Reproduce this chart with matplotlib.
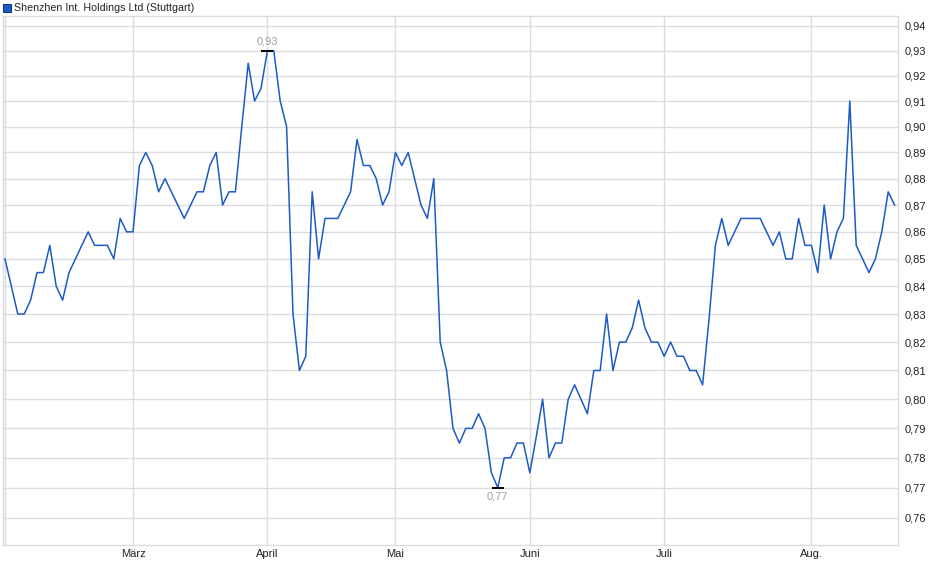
import numpy as np
import matplotlib
matplotlib.use("Agg")
import matplotlib.pyplot as plt
from matplotlib.ticker import FixedLocator, FixedFormatter, NullLocator

# Kursverlauf (Handelstage, Feb - Aug)
prices = [
    0.85, 0.84, 0.83, 0.83, 0.835, 0.845, 0.845, 0.855, 0.84, 0.835,
    0.845, 0.85, 0.855, 0.86, 0.855, 0.855, 0.855, 0.85, 0.865, 0.86,
    0.86, 0.885, 0.89, 0.885, 0.875, 0.88, 0.875, 0.87, 0.865, 0.87,
    0.875, 0.875, 0.885, 0.89, 0.87, 0.875, 0.875, 0.90, 0.925, 0.91,
    0.915, 0.93, 0.93, 0.91, 0.90, 0.83, 0.81, 0.815, 0.875, 0.85,
    0.865, 0.865, 0.865, 0.87, 0.875, 0.895, 0.885, 0.885, 0.88, 0.87,
    0.875, 0.89, 0.885, 0.89, 0.88, 0.87, 0.865, 0.88, 0.82, 0.81,
    0.79, 0.785, 0.79, 0.79, 0.795, 0.79, 0.775, 0.77, 0.78, 0.78,
    0.785, 0.785, 0.775, 0.787, 0.80, 0.78, 0.785, 0.785, 0.80, 0.805,
    0.80, 0.795, 0.81, 0.81, 0.83, 0.81, 0.82, 0.82, 0.825, 0.835,
    0.825, 0.82, 0.82, 0.815, 0.82, 0.815, 0.815, 0.81, 0.81, 0.805,
    0.828, 0.855, 0.865, 0.855, 0.86, 0.865, 0.865, 0.865, 0.865, 0.86,
    0.855, 0.86, 0.85, 0.85, 0.865, 0.855, 0.855, 0.845, 0.87, 0.85,
    0.86, 0.865, 0.91, 0.855, 0.85, 0.845, 0.85, 0.86, 0.875, 0.87,
]

month_labels = ["März", "April", "Mai", "Juni", "Juli", "Aug."]
month_pos = [20, 41, 61, 82, 103, 126]

y_ticks = [0.76, 0.77, 0.78, 0.79, 0.80, 0.81, 0.82, 0.83, 0.84, 0.85,
           0.86, 0.87, 0.88, 0.89, 0.90, 0.91, 0.92, 0.93, 0.94]
y_labels = [f"{v:.2f}".replace(".", ",") for v in y_ticks]

title = "Shenzhen Int. Holdings Ltd (Stuttgart)"

plt.rcParams['font.family'] = ['Liberation Sans', 'DejaVu Sans']

W, H = 940, 579
fig = plt.figure(figsize=(W / 100, H / 100), dpi=100)
ax = fig.add_axes([3 / W, (H - 545) / H, (898 - 3) / W, (545 - 16) / H])

x = np.arange(len(prices))
line_color = "#1c5bc6"
grid_color = "#dcdcdc"

ax.set_yscale("log")
ax.set_ylim(0.75118, 0.94405)
px = 6.4  # Pixel je Handelstag
ax.set_xlim(-2 / px, (898 - 5) / px)

for yv in y_ticks:
    ax.axhline(yv, color=grid_color, lw=1, zorder=1)
for xv in month_pos:
    ax.axvline(xv, color=grid_color, lw=1, zorder=1)
ax.axvline(0, color=grid_color, lw=1, zorder=1)

ax.plot(x, prices, color=line_color, lw=1.1, zorder=3)

# Hoch / Tief
imax = int(np.argmax(prices))
imin = int(np.argmin(prices))
ax.plot([imax], [prices[imax]], marker="_", ms=8, mew=1.4, color="black", zorder=4)
ax.plot([imin], [prices[imin]], marker="_", ms=8, mew=1.4, color="black", zorder=4)
ann_color = "#a39e98"
ax.annotate(f"{prices[imax]:.2f}".replace(".", ","), (imax, prices[imax]),
            xytext=(0, 3), textcoords="offset points", ha="center", va="bottom",
            fontsize=8, color=ann_color)
ax.annotate(f"{prices[imin]:.2f}".replace(".", ","), (imin, prices[imin]),
            xytext=(0, -3), textcoords="offset points", ha="center", va="top",
            fontsize=8, color=ann_color)

ax.yaxis.tick_right()
ax.yaxis.set_major_locator(FixedLocator(y_ticks))
ax.yaxis.set_major_formatter(FixedFormatter(y_labels))
ax.yaxis.set_minor_locator(NullLocator())
ax.set_xticks(month_pos)
ax.set_xticklabels(month_labels)
ax.tick_params(axis="both", length=0, labelsize=8, colors="#222222")
ax.tick_params(axis="y", pad=5)
ax.tick_params(axis="x", pad=3)

for s in ax.spines.values():
    s.set_color(grid_color)
    s.set_linewidth(1)

# Legende oben links
fig.patches.append(plt.Rectangle((3 / W, (H - 12) / H), 8 / W, 8 / H,
                                 transform=fig.transFigure, facecolor=line_color,
                                 edgecolor="#123a80", lw=0.8))
fig.text(14 / W, (H - 8) / H, title, fontsize=7.7, va="center", ha="left", color="#222222")

fig.savefig("out.png", dpi=100)
